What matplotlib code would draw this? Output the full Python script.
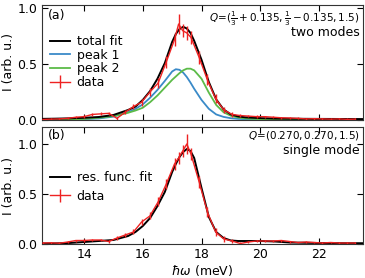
import matplotlib
matplotlib.use("Agg")
import matplotlib.pyplot as plt

# ---------------- data ----------------
# fit grid (meV)
x_fit = [12.5, 13.0, 13.5, 14.0, 14.5, 15.0, 15.5, 15.75, 16.0, 16.25, 16.5, 16.75,
         17.0, 17.125, 17.25, 17.375, 17.5, 17.625, 17.75, 18.0, 18.25, 18.5, 18.75, 19.0,
         19.25, 19.5, 20.0, 20.5, 21.0, 22.0, 23.0, 23.5]

# panel (a)
total_fit_a = [0.010, 0.012, 0.015, 0.020, 0.027, 0.045, 0.090, 0.120, 0.180, 0.260, 0.370, 0.510,
               0.700, 0.770, 0.815, 0.835, 0.820, 0.780, 0.710, 0.540, 0.340, 0.185, 0.095, 0.050,
               0.032, 0.024, 0.017, 0.013, 0.0115, 0.010, 0.009, 0.0085]
peak1_a = [0.002, 0.003, 0.005, 0.008, 0.014, 0.030, 0.070, 0.100, 0.140, 0.200, 0.270, 0.350,
           0.435, 0.455, 0.450, 0.425, 0.385, 0.335, 0.280, 0.180, 0.100, 0.050, 0.028, 0.016,
           0.010, 0.007, 0.005, 0.004, 0.003, 0.002, 0.0015, 0.0013]
peak2_a = [0.002, 0.003, 0.005, 0.010, 0.020, 0.035, 0.065, 0.085, 0.110, 0.160, 0.220, 0.290,
           0.360, 0.390, 0.420, 0.445, 0.460, 0.460, 0.445, 0.370, 0.245, 0.135, 0.070, 0.038,
           0.022, 0.014, 0.008, 0.005, 0.004, 0.002, 0.0015, 0.0012]

x_data = [12.6, 12.88, 13.16, 13.44, 13.72, 14.0, 14.28, 14.56, 14.84, 15.12, 15.4, 15.68,
          15.96, 16.24, 16.52, 16.8, 17.08, 17.22, 17.36, 17.5, 17.64, 17.92, 18.2, 18.48,
          18.76, 19.04, 19.32, 19.6, 19.88, 20.16, 20.44, 20.72, 21.0, 21.28, 21.56, 21.84,
          22.12, 22.4, 22.68, 22.96, 23.24]
y_data_a = [0.005, 0.008, 0.010, 0.015, 0.025, 0.030, 0.050, 0.055, 0.060, 0.015, 0.070, 0.120,
            0.160, 0.250, 0.330, 0.520, 0.720, 0.860, 0.800, 0.780, 0.740, 0.560, 0.360, 0.190,
            0.090, 0.050, 0.040, 0.035, 0.030, 0.030, 0.025, 0.020, 0.018, 0.015, 0.010, 0.012,
            0.010, 0.008, 0.010, 0.006, 0.008]
e_data_a = [0.008, 0.008, 0.008, 0.010, 0.010, 0.012, 0.012, 0.013, 0.015, 0.012, 0.020, 0.025,
            0.030, 0.035, 0.045, 0.050, 0.060, 0.090, 0.060, 0.060, 0.060, 0.060, 0.050, 0.040,
            0.030, 0.020, 0.015, 0.012, 0.012, 0.010, 0.010, 0.010, 0.010, 0.008, 0.008, 0.008,
            0.008, 0.008, 0.008, 0.008, 0.008]

# panel (b)
fit_b = [0.005, 0.006, 0.010, 0.020, 0.030, 0.040, 0.080, 0.120, 0.180, 0.260, 0.380, 0.520,
         0.720, 0.800, 0.870, 0.920, 0.950, 0.930, 0.860, 0.560, 0.270, 0.120, 0.060, 0.035,
         0.030, 0.030, 0.030, 0.025, 0.015, 0.010, 0.008, 0.008]
y_data_b = [0.010, 0.012, 0.008, 0.020, 0.035, 0.035, 0.040, 0.040, 0.025, 0.060, 0.090, 0.120,
            0.220, 0.280, 0.420, 0.600, 0.800, 0.860, 0.930, 1.000, 0.900, 0.620, 0.320, 0.120,
            0.050, 0.030, 0.005, 0.020, 0.030, 0.030, 0.030, 0.035, 0.025, 0.015, 0.020, 0.015,
            0.010, 0.015, 0.010, 0.010, 0.010]
e_data_b = [0.008, 0.008, 0.008, 0.010, 0.010, 0.012, 0.012, 0.013, 0.015, 0.015, 0.020, 0.025,
            0.030, 0.035, 0.045, 0.050, 0.060, 0.060, 0.060, 0.100, 0.060, 0.060, 0.050, 0.040,
            0.030, 0.020, 0.015, 0.012, 0.012, 0.010, 0.010, 0.010, 0.010, 0.008, 0.008, 0.008,
            0.008, 0.008, 0.008, 0.008, 0.008]

x_ticks = [14, 16, 18, 20, 22]
y_ticks = [0.0, 0.5, 1.0]
y_ticklabels = ["0.0", "0.5", "1.0"]

# ---------------- style ----------------
plt.rcParams['font.family'] = ['DejaVu Sans']
plt.rcParams['font.size'] = 9
plt.rcParams['mathtext.fontset'] = 'dejavusans'

RED = '#ee2222'
BLUE = '#3a8ac8'
GREEN = '#5cbb48'

fig = plt.figure(figsize=(3.65, 2.78), dpi=100)
axA = fig.add_axes([0.1137, 0.5683, 0.8808, 0.4155])
axB = fig.add_axes([0.1137, 0.1223, 0.8808, 0.4191])

for ax in (axA, axB):
    ax.set_xlim(12.55, 23.5)
    ax.set_xticks(x_ticks)
    ax.set_yticks(y_ticks)
    ax.set_yticklabels(y_ticklabels)
    ax.tick_params(direction='in', top=True, right=True, length=4, width=0.8,
                   labelsize=9, pad=3)
    ax.set_ylabel('I (arb. u.)', fontsize=9, labelpad=2)
    for s in ax.spines.values():
        s.set_linewidth(0.8)
        s.set_color('#333333')

axA.set_ylim(0.0, 1.035)
axB.set_ylim(0.0, 1.165)
axA.tick_params(labelbottom=False)

# panel (a)
axA.plot(x_fit, total_fit_a, color='black', lw=1.4, label='total fit', zorder=4)
axA.plot(x_fit, peak1_a, color=BLUE, lw=1.3, label='peak 1', zorder=3)
axA.plot(x_fit, peak2_a, color=GREEN, lw=1.3, label='peak 2', zorder=3)
axA.errorbar(x_data, y_data_a, yerr=e_data_a, fmt='-', color=RED, lw=1.0,
             elinewidth=1.0, capsize=0, label='data', zorder=5)
axA.legend(loc='upper left', bbox_to_anchor=(0.0, 0.81), frameon=False, fontsize=9,
           handlelength=1.6, handletextpad=0.5, labelspacing=0.05, borderaxespad=0.3)
axA.text(0.02, 0.96, '(a)', transform=axA.transAxes, ha='left', va='top', fontsize=9)
axA.text(0.99, 0.96, r'$Q\!=\!(\frac{1}{3}+0.135,\frac{1}{3}-0.135,1.5)$',
         transform=axA.transAxes, ha='right', va='top', fontsize=7.5)
axA.text(0.99, 0.81, 'two modes', transform=axA.transAxes, ha='right', va='top', fontsize=9)

# panel (b)
axB.plot(x_fit, fit_b, color='black', lw=1.4, label='res. func. fit', zorder=4)
axB.errorbar(x_data, y_data_b, yerr=e_data_b, fmt='-', color=RED, lw=1.0,
             elinewidth=1.0, capsize=0, label='data', zorder=5)
axB.legend(loc='upper left', bbox_to_anchor=(0.0, 0.70), frameon=False, fontsize=9,
           handlelength=1.6, handletextpad=0.5, labelspacing=0.45, borderaxespad=0.3)
axB.text(0.02, 0.99, '(b)', transform=axB.transAxes, ha='left', va='top', fontsize=9)
axB.text(0.99, 0.99, r'$Q\!=\!(0.270,0.270,1.5)$',
         transform=axB.transAxes, ha='right', va='top', fontsize=7.5)
axB.text(0.99, 0.86, 'single mode', transform=axB.transAxes, ha='right', va='top', fontsize=9)
axB.set_xlabel(r'$\hbar\omega$ (meV)', fontsize=9, labelpad=1)

fig.savefig('out.png', dpi=100)
